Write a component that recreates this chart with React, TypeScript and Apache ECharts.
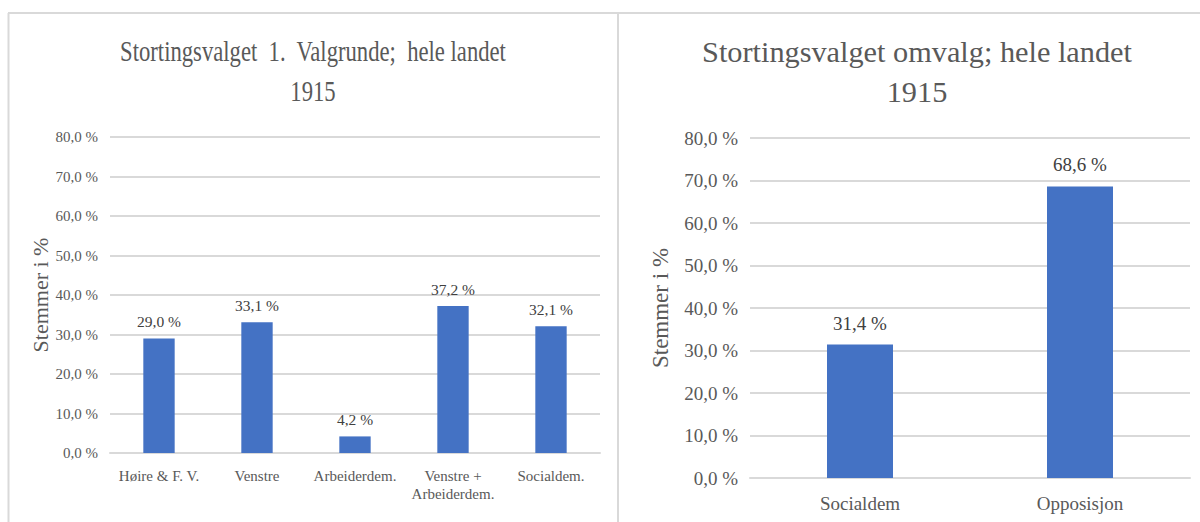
import React, { useEffect, useRef } from "react";
import * as echarts from "echarts";

const leftCategories = ["Høire & F. V.", "Venstre", "Arbeiderdem.", "Venstre +\nArbeiderdem.", "Socialdem."];
const leftValues = [29.0, 33.1, 4.2, 37.2, 32.1];
const rightCategories = ["Socialdem", "Opposisjon"];
const rightValues = [31.4, 68.6];
const leftTitleLines = ["Stortingsvalget  1.  Valgrunde;  hele landet", "1915"];
const rightTitleLines = ["Stortingsvalget omvalg; hele landet", "1915"];
const yAxisName = "Stemmer i %";

const FONT = "Liberation Serif";
const BAR = "#4472c4";
const GRIDC = "#d9d9d9";
const TXT = "#595959";

const fmt = (v: number) => v.toFixed(1).replace(".", ",") + " %";

export default function App() {
  const ref = useRef<HTMLDivElement>(null);
  useEffect(() => {
    if (!ref.current) return;
    const chart = echarts.init(ref.current, undefined, { renderer: "svg" });
    const yAxisBase = (fs: number, nfs: number, gap: number, idx: number) => ({
      type: "value",
      gridIndex: idx,
      min: 0,
      max: 80,
      interval: 10,
      name: yAxisName,
      nameLocation: "middle",
      nameGap: gap,
      nameRotate: 90,
      nameTextStyle: { fontFamily: FONT, fontSize: nfs, color: TXT },
      axisLabel: { formatter: (v: number) => fmt(v), fontFamily: FONT, fontSize: fs, color: TXT, margin: 12 },
      axisLine: { show: false },
      axisTick: { show: false },
      splitLine: { lineStyle: { color: GRIDC, width: 2 } },
    });
    const xAxisBase = (cats: string[], fs: number, idx: number) => ({
      type: "category",
      gridIndex: idx,
      data: cats,
      axisLine: { show: true, lineStyle: { color: GRIDC, width: 2 } },
      axisTick: { show: false },
      axisLabel: { fontFamily: FONT, fontSize: fs, color: TXT, margin: 14, lineHeight: fs + 3, interval: 0 },
    });
    const titleText = (text: string, x: number, y: number, sx: number) => ({
      type: "text",
      x,
      y,
      scaleX: sx,
      style: {
        text,
        fontFamily: FONT,
        fontSize: 30,
        fill: TXT,
        align: "center",
        verticalAlign: "middle",
      },
    });
    chart.setOption({
      animation: false,
      backgroundColor: "#fff",
      textStyle: { fontFamily: FONT },
      graphic: [
        { type: "line", shape: { x1: 8, y1: 13, x2: 1200, y2: 13 }, style: { stroke: GRIDC, lineWidth: 2 } },
        { type: "line", shape: { x1: 8.5, y1: 13, x2: 8.5, y2: 522 }, style: { stroke: GRIDC, lineWidth: 2 } },
        { type: "line", shape: { x1: 618, y1: 13, x2: 618, y2: 522 }, style: { stroke: GRIDC, lineWidth: 2 } },
        titleText(leftTitleLines[0], 313, 51, 0.755),
        titleText(leftTitleLines[1], 313, 91, 0.755),
        titleText(rightTitleLines[0], 917, 52, 1.01),
        titleText(rightTitleLines[1], 917, 92, 1.01),
      ],
      grid: [
        { left: 110, right: 600, top: 137, bottom: 69 },
        { left: 750, right: 10, top: 138, bottom: 44 },
      ],
      xAxis: [xAxisBase(leftCategories, 15, 0), xAxisBase(rightCategories, 19, 1)],
      yAxis: [yAxisBase(15, 22, 58, 0), yAxisBase(19, 23, 78, 1)],
      series: [
        {
          type: "bar",
          xAxisIndex: 0,
          yAxisIndex: 0,
          data: leftValues,
          barWidth: "32%",
          itemStyle: { color: BAR },
          label: { show: true, position: "top", distance: 9, formatter: (p: any) => fmt(p.value), fontFamily: FONT, fontSize: 15.5, color: "#404040" },
        },
        {
          type: "bar",
          xAxisIndex: 1,
          yAxisIndex: 1,
          data: rightValues,
          barWidth: "30%",
          itemStyle: { color: BAR },
          label: { show: true, position: "top", distance: 12, formatter: (p: any) => fmt(p.value), fontFamily: FONT, fontSize: 19, color: "#404040" },
        },
      ],
    });
    return () => chart.dispose();
  }, []);
  return <div ref={ref} style={{ position: "absolute", left: 0, top: 0, width: 1200, height: 522 }} />;
}
